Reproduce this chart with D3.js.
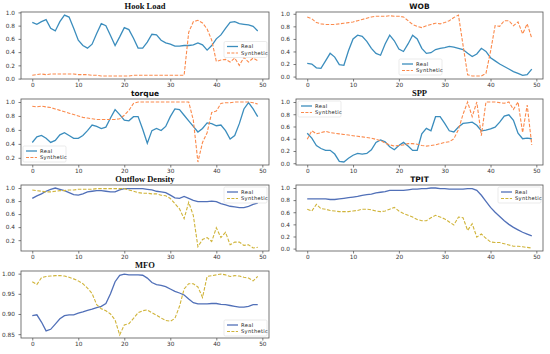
<!DOCTYPE html>
<html>
<head>
<meta charset="utf-8">
<script src="https://cdn.jsdelivr.net/npm/d3@7"></script>
<style>
  body { margin: 0; background: #fff; }
  svg { display: block; }
</style>
</head>
<body>
<div id="chart"></div>
<script>
// datos (50 muestras por serie)
const xTicks = [0, 10, 20, 30, 40, 50];
const yTicksUnit = [0.0, 0.2, 0.4, 0.6, 0.8, 1.0];
const yTicksMfo = [0.85, 0.90, 0.95, 1.00];
const seriesNames = ["Real", "Synthetic"];

const hookReal = [0.85,0.82,0.86,0.89,0.76,0.72,0.86,0.96,0.93,0.76,0.58,0.50,0.46,0.52,0.68,0.83,0.80,0.65,0.50,0.63,0.77,0.74,0.61,0.46,0.46,0.55,0.67,0.66,0.58,0.54,0.52,0.49,0.49,0.50,0.50,0.51,0.54,0.51,0.43,0.50,0.60,0.66,0.76,0.85,0.86,0.83,0.82,0.81,0.79,0.72];
const hookSyn = [0.05,0.06,0.07,0.06,0.07,0.07,0.07,0.07,0.07,0.07,0.06,0.06,0.06,0.05,0.05,0.04,0.04,0.04,0.04,0.04,0.04,0.04,0.05,0.05,0.05,0.05,0.05,0.05,0.05,0.05,0.05,0.05,0.05,0.05,0.70,0.86,0.88,0.84,0.75,0.58,0.26,0.28,0.29,0.25,0.31,0.20,0.32,0.25,0.31,0.27];

const wobReal = [0.21,0.20,0.14,0.13,0.25,0.37,0.31,0.19,0.18,0.41,0.60,0.66,0.64,0.56,0.45,0.37,0.34,0.52,0.66,0.57,0.44,0.40,0.52,0.66,0.60,0.45,0.37,0.38,0.43,0.45,0.46,0.48,0.47,0.45,0.43,0.37,0.32,0.36,0.45,0.40,0.30,0.25,0.20,0.16,0.12,0.08,0.05,0.02,0.03,0.12];
const wobSyn = [0.95,0.92,0.86,0.84,0.83,0.83,0.83,0.84,0.85,0.86,0.87,0.89,0.91,0.93,0.95,0.96,0.96,0.96,0.97,0.96,0.96,0.95,0.89,0.83,0.80,0.78,0.81,0.83,0.85,0.84,0.86,0.89,0.94,0.98,0.50,0.03,0.01,0.01,0.01,0.05,0.40,0.81,0.80,0.89,0.89,0.81,0.87,0.68,0.84,0.61];

const torqueReal = [0.42,0.50,0.52,0.48,0.42,0.45,0.53,0.56,0.52,0.48,0.48,0.52,0.59,0.67,0.65,0.62,0.64,0.77,0.89,0.82,0.74,0.73,0.79,0.79,0.61,0.41,0.59,0.62,0.59,0.65,0.79,0.90,0.89,0.81,0.73,0.65,0.57,0.62,0.70,0.69,0.66,0.67,0.59,0.47,0.52,0.69,0.90,0.99,0.90,0.79];
const torqueSyn = [0.94,0.93,0.94,0.93,0.92,0.90,0.88,0.86,0.84,0.82,0.80,0.78,0.77,0.76,0.75,0.75,0.75,0.75,0.75,0.76,0.81,0.88,0.98,1.00,1.00,1.00,1.00,1.00,1.00,1.00,1.00,1.00,1.00,1.00,1.00,0.74,0.14,0.42,0.56,0.85,0.87,0.98,0.99,0.99,1.00,1.00,1.00,1.00,0.99,0.97];

const sppReal = [0.49,0.41,0.29,0.24,0.21,0.21,0.15,0.03,0.02,0.08,0.13,0.16,0.15,0.16,0.22,0.34,0.38,0.35,0.27,0.22,0.29,0.34,0.28,0.21,0.21,0.48,0.57,0.53,0.76,0.76,0.65,0.53,0.51,0.59,0.65,0.66,0.67,0.62,0.53,0.54,0.56,0.59,0.67,0.77,0.79,0.70,0.49,0.40,0.41,0.40];
const sppSyn = [0.39,0.53,0.48,0.50,0.52,0.50,0.49,0.48,0.47,0.46,0.45,0.44,0.43,0.42,0.41,0.39,0.37,0.33,0.30,0.28,0.29,0.30,0.32,0.32,0.31,0.29,0.28,0.29,0.30,0.32,0.34,0.35,0.40,0.55,0.80,1.00,0.76,1.00,0.45,1.00,1.00,1.00,0.99,0.98,1.00,0.88,1.00,0.50,0.95,0.30];

const outflowReal = [0.84,0.88,0.91,0.95,0.98,1.00,0.98,0.96,0.93,0.90,0.89,0.91,0.94,0.95,0.96,0.96,0.95,0.94,0.94,0.97,0.99,0.99,0.99,0.99,0.99,0.98,0.97,0.95,0.94,0.93,0.89,0.85,0.84,0.87,0.84,0.81,0.79,0.79,0.79,0.80,0.79,0.76,0.74,0.72,0.71,0.70,0.70,0.72,0.75,0.77];
const outflowSyn = [0.97,0.96,0.95,0.94,0.94,0.95,0.96,0.96,0.97,0.97,0.98,0.98,0.98,0.98,0.99,0.99,0.99,0.99,0.99,0.99,0.99,0.97,0.95,0.93,0.92,0.92,0.91,0.91,0.89,0.88,0.84,0.76,0.68,0.53,0.78,0.58,0.10,0.21,0.24,0.18,0.39,0.24,0.32,0.13,0.17,0.17,0.12,0.13,0.08,0.09];

const tpitReal = [0.82,0.82,0.82,0.82,0.82,0.81,0.81,0.82,0.83,0.84,0.85,0.86,0.88,0.89,0.90,0.92,0.93,0.94,0.96,0.96,0.96,0.96,0.97,0.98,0.98,0.99,0.99,1.00,1.00,0.99,0.99,0.98,0.98,0.98,0.98,0.99,0.99,0.96,0.88,0.78,0.68,0.60,0.53,0.46,0.40,0.35,0.31,0.27,0.24,0.21];
const tpitSyn = [0.65,0.62,0.73,0.66,0.65,0.63,0.62,0.61,0.61,0.61,0.62,0.63,0.65,0.65,0.64,0.62,0.61,0.62,0.65,0.68,0.62,0.58,0.55,0.52,0.48,0.46,0.46,0.51,0.55,0.52,0.49,0.44,0.39,0.52,0.51,0.30,0.41,0.19,0.24,0.17,0.11,0.10,0.10,0.08,0.06,0.04,0.04,0.03,0.02,0.01];

const mfoReal = [0.896,0.898,0.880,0.858,0.862,0.875,0.888,0.896,0.898,0.898,0.902,0.905,0.909,0.912,0.916,0.919,0.926,0.950,0.980,0.996,0.999,0.997,0.997,0.997,0.996,0.989,0.978,0.973,0.971,0.968,0.962,0.956,0.952,0.947,0.937,0.928,0.925,0.925,0.925,0.926,0.926,0.924,0.923,0.921,0.919,0.917,0.917,0.919,0.923,0.923];
const mfoSyn = [0.980,0.973,0.990,0.993,0.994,0.995,0.995,0.994,0.991,0.987,0.982,0.975,0.964,0.951,0.923,0.913,0.908,0.900,0.885,0.848,0.873,0.876,0.889,0.903,0.908,0.910,0.903,0.897,0.890,0.884,0.882,0.889,0.919,0.962,0.975,0.975,0.967,0.941,0.993,0.995,0.997,0.999,0.997,0.993,0.995,0.994,0.991,0.989,0.982,0.993];

const width = 550;
const height = 354;

// columnas y filas de los paneles
const cols = [{ x0: 21, x1: 269 }, { x0: 296, x1: 543 }];
const rows = [{ y0: 12, y1: 79 }, { y0: 99, y1: 165 }, { y0: 185, y1: 251 }, { y0: 271, y1: 338 }];

const warm = { real: "#3b8dbd", syn: "#fb8a4c" };
const cool = { real: "#5170b8", syn: "#d0b43a" };
const serif = "'Liberation Serif', 'Times New Roman', serif";
const sans = "'DejaVu Sans', sans-serif";

const panels = [
  { title: "Hook Load", real: hookReal, syn: hookSyn, col: 0, row: 0, pal: warm, font: serif, legend: "right", yTicks: yTicksUnit, fmt: ".1f" },
  { title: "WOB", real: wobReal, syn: wobSyn, col: 1, row: 0, pal: warm, font: sans, legend: "lowercenter", yTicks: yTicksUnit, fmt: ".1f" },
  { title: "torque", real: torqueReal, syn: torqueSyn, col: 0, row: 1, pal: warm, font: sans, legend: "lowerleft", yTicks: yTicksUnit, fmt: ".1f" },
  { title: "SPP", real: sppReal, syn: sppSyn, col: 1, row: 1, pal: warm, font: serif, legend: "upperleft", yTicks: yTicksUnit, fmt: ".1f" },
  { title: "Outflow Density", real: outflowReal, syn: outflowSyn, col: 0, row: 2, pal: cool, font: serif, legend: "upperright", yTicks: yTicksUnit, fmt: ".1f" },
  { title: "TPIT", real: tpitReal, syn: tpitSyn, col: 1, row: 2, pal: cool, font: sans, legend: "upperright", yTicks: yTicksUnit, fmt: ".1f" },
  { title: "MFO", real: mfoReal, syn: mfoSyn, col: 0, row: 3, pal: cool, font: serif, legend: "lowerright", yTicks: yTicksMfo, fmt: ".2f" },
];

const svg = d3
  .select("#chart")
  .append("svg")
  .attr("width", width)
  .attr("height", height);

svg.append("rect").attr("width", width).attr("height", height).attr("fill", "#fff");

panels.forEach((p) => {
  const c = cols[p.col];
  const r = rows[p.row];
  const n = p.real.length;

  // margenes del 5% como en matplotlib
  const xPad = (n - 1) * 0.05;
  const x = d3.scaleLinear().domain([-xPad, n - 1 + xPad]).range([c.x0, c.x1]);

  const all = p.real.concat(p.syn);
  const lo = d3.min(all), hi = d3.max(all);
  const yPad = (hi - lo) * 0.05;
  const y = d3.scaleLinear().domain([lo - yPad, hi + yPad]).range([r.y1, r.y0]);

  const g = svg.append("g");

  g.append("text")
    .attr("x", (c.x0 + c.x1) / 2)
    .attr("y", r.y0 - 3.5)
    .attr("text-anchor", "middle")
    .attr("font-family", p.font)
    .attr("font-weight", "bold")
    .attr("font-size", p.font === serif ? 8.5 : 7.5)
    .attr("fill", "#111")
    .text(p.title);

  const xAxis = d3.axisBottom(x).tickValues(xTicks).tickSize(2.5).tickPadding(2).tickFormat(d3.format("d"));
  const yTicks = p.yTicks.filter((t) => t >= y.domain()[0] && t <= y.domain()[1] + 1e-9);
  const yAxis = d3.axisLeft(y).tickValues(yTicks).tickSize(2.5).tickFormat(d3.format(p.fmt));

  const gx = g.append("g").attr("transform", `translate(0,${r.y1})`).call(xAxis);
  const gy = g.append("g").attr("transform", `translate(${c.x0},0)`).call(yAxis);
  [gx, gy].forEach((ax) => {
    ax.select(".domain").remove();
    ax.selectAll("line").attr("stroke", "#444").attr("stroke-width", 0.7);
    ax.selectAll("text")
      .attr("font-family", sans)
      .attr("font-size", 5.8)
      .attr("fill", "#333");
  });
  gx.selectAll("text").attr("dy", "0.6em");
  gy.selectAll("text").attr("dx", "-0.1em");

  const line = (vals) =>
    d3.line()
      .x((d, i) => x(i))
      .y((d) => y(d))(vals);

  g.append("path")
    .attr("d", line(p.real))
    .attr("fill", "none")
    .attr("stroke", p.pal.real)
    .attr("stroke-width", 1.3);

  g.append("path")
    .attr("d", line(p.syn))
    .attr("fill", "none")
    .attr("stroke", p.pal.syn)
    .attr("stroke-width", 1.1)
    .attr("stroke-dasharray", "3.5,1.6");

  // marco
  g.append("rect")
    .attr("x", c.x0)
    .attr("y", r.y0)
    .attr("width", c.x1 - c.x0)
    .attr("height", r.y1 - r.y0)
    .attr("fill", "none")
    .attr("stroke", "#555")
    .attr("stroke-width", 0.8);

  // leyenda
  const lw = 43, lh = 16;
  let lx, ly;
  if (p.legend === "right") { lx = c.x1 - lw - 2; ly = (r.y0 + r.y1) / 2 - lh / 2 + 4; }
  if (p.legend === "lowercenter") { lx = (c.x0 + c.x1) / 2 - lw / 2 + 1; ly = r.y1 - lh - 4; }
  if (p.legend === "lowerleft") { lx = c.x0 + 2; ly = r.y1 - lh - 3; }
  if (p.legend === "upperleft") { lx = c.x0 + 2; ly = r.y0 + 2; }
  if (p.legend === "upperright") { lx = c.x1 - lw - 2; ly = r.y0 + 2; }
  if (p.legend === "lowerright") { lx = c.x1 - lw - 2; ly = r.y1 - lh - 2; }

  const lg = g.append("g").attr("transform", `translate(${lx},${ly})`);
  lg.append("rect")
    .attr("width", lw)
    .attr("height", lh)
    .attr("rx", 1.5)
    .attr("fill", "#fff")
    .attr("fill-opacity", 0.85)
    .attr("stroke", "#ddd")
    .attr("stroke-width", 0.6);

  seriesNames.forEach((name, i) => {
    const yy = 5 + i * 6.5;
    lg.append("line")
      .attr("x1", 3)
      .attr("x2", 14)
      .attr("y1", yy)
      .attr("y2", yy)
      .attr("stroke", i === 0 ? p.pal.real : p.pal.syn)
      .attr("stroke-width", i === 0 ? 1.3 : 1.1)
      .attr("stroke-dasharray", i === 0 ? null : "3,1.4");
    lg.append("text")
      .attr("x", 17)
      .attr("y", yy)
      .attr("dy", "0.35em")
      .attr("font-family", sans)
      .attr("font-size", 5.2)
      .attr("letter-spacing", 0.3)
      .attr("fill", "#222")
      .text(name);
  });
});
</script>
</body>
</html>
